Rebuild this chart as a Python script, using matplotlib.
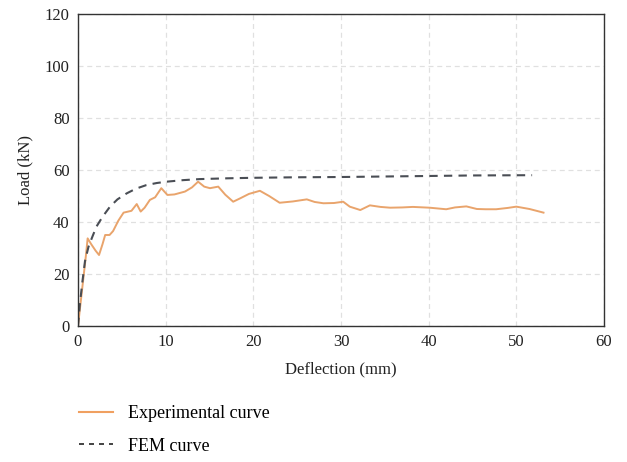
import matplotlib.pyplot as plt
from matplotlib.lines import Line2D

# Experimental curve (deflection mm, load kN)
exp_x = [0.0, 0.3, 0.6, 0.9, 1.1, 1.5, 2.0, 2.4, 2.8, 3.1, 3.6, 4.0, 4.6, 5.2,
         6.1, 6.7, 7.15, 7.6, 8.2, 8.8, 9.5, 10.2, 11.0, 12.2, 13.0, 13.7, 14.4,
         15.05, 16.0, 16.8, 17.7, 18.5, 19.5, 20.75, 21.8, 23.0, 24.5, 26.1, 27.0,
         28.0, 29.2, 30.25, 31.0, 32.2, 33.3, 34.5, 35.6, 37.0, 38.2, 40.1, 42.0,
         43.0, 44.3, 45.5, 46.5, 47.7, 49.0, 50.0, 51.5, 53.1]
exp_y = [0.0, 9.0, 18.0, 27.0, 33.7, 31.5, 29.0, 27.3, 31.5, 35.0, 35.0, 36.5,
         40.5, 43.6, 44.3, 46.9, 44.0, 45.5, 48.5, 49.5, 53.0, 50.4, 50.6, 51.7,
         53.3, 55.5, 53.6, 53.0, 53.6, 50.5, 47.8, 49.1, 50.8, 52.0, 50.0, 47.4,
         47.9, 48.7, 47.7, 47.2, 47.3, 47.8, 45.9, 44.6, 46.4, 45.8, 45.5, 45.6,
         45.8, 45.5, 44.9, 45.6, 46.0, 45.0, 44.9, 44.9, 45.4, 45.9, 45.0, 43.6]

# FEM curve
fem_x = [0.0, 0.2, 0.5, 0.8, 1.2, 1.6, 2.1, 2.8, 3.65, 4.5, 5.55, 6.6, 7.8, 9.0,
         10.1, 12.0, 13.9, 17.0, 20.0, 25.0, 30.0, 35.0, 40.1, 45.0, 51.8]
fem_y = [0.0, 8.0, 17.0, 25.0, 30.5, 34.0, 38.2, 42.0, 45.9, 48.7, 51.0, 52.8,
         54.2, 55.0, 55.5, 56.1, 56.5, 56.8, 57.0, 57.2, 57.3, 57.5, 57.7, 57.9,
         58.0]

xticks = [0, 10, 20, 30, 40, 50, 60]
yticks = [0, 20, 40, 60, 80, 100, 120]

exp_color = '#E9A46C'
fem_color = '#4a4e55'


def main():
    plt.rcParams['font.family'] = ['Liberation Serif', 'DejaVu Serif']
    fig = plt.figure(figsize=(6.27, 4.62), dpi=100)
    ax = fig.add_axes([0.1244, 0.2944, 0.8389, 0.6753])

    ax.plot(exp_x, exp_y, color=exp_color, linewidth=1.4)
    ax.plot(fem_x, fem_y, color=fem_color, linewidth=1.5, linestyle=(0, (4, 3)))

    ax.set_xlim(0, 60)
    ax.set_ylim(0, 120)
    ax.set_xticks(xticks)
    ax.set_yticks(yticks)
    ax.tick_params(length=0, labelsize=12, colors='#222222', pad=6)
    ax.set_xlabel('Deflection (mm)', fontsize=12, color='#222222', labelpad=8)
    ax.set_ylabel('Load (kN)', fontsize=12, color='#222222', labelpad=8)

    ax.set_axisbelow(True)
    ax.grid(True, color='#e0e0e0', linestyle=(0, (4, 3)), linewidth=0.9)
    for sp in ax.spines.values():
        sp.set_color('#333333')
        sp.set_linewidth(1.0)

    handles = [Line2D([], [], color='#F0A060', linewidth=1.5),
               Line2D([], [], color='#222222', linewidth=1.2, linestyle=(0, (3, 3)))]
    fig.legend(handles, ['Experimental curve', 'FEM curve'],
               loc='upper left', bbox_to_anchor=(0.100, 0.158), frameon=False,
               fontsize=13, handlelength=1.9, handletextpad=0.8, labelspacing=0.85)

    fig.savefig('out.png', dpi=100)


if __name__ == '__main__':
    main()
